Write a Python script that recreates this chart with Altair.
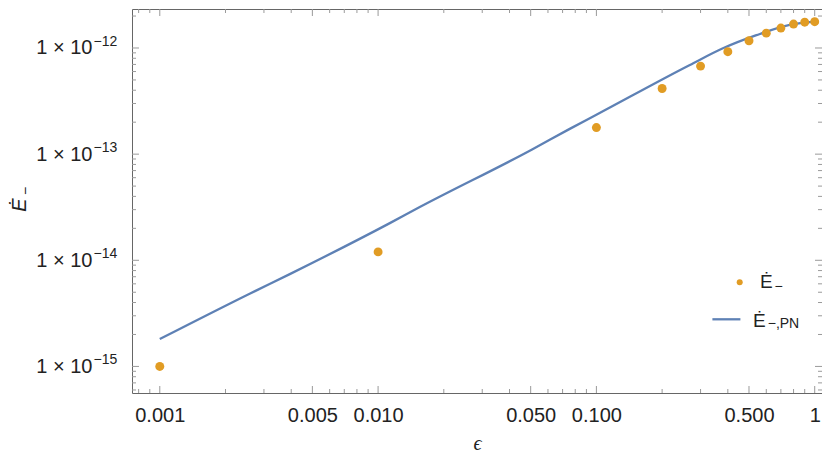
import altair as alt
import pandas as pd

# ---- data ----
eps_points = [0.001, 0.01, 0.1, 0.2, 0.3, 0.4, 0.5, 0.6, 0.7, 0.8, 0.9, 1.0]
edot_points = [1.0e-15, 1.2e-14, 1.78e-13, 4.15e-13, 6.75e-13, 9.23e-13,
               1.17e-12, 1.38e-12, 1.54e-12, 1.68e-12, 1.75e-12, 1.77e-12]

eps_pn = [0.001, 0.00258, 0.00394, 0.01132, 0.01552, 0.0505, 0.0755, 0.1,
          0.268, 0.380, 0.541, 0.769, 1.0]
edot_pn = [1.81e-15, 4.84e-15, 7.41e-15, 2.24e-14, 3.17e-14, 1.10e-13, 1.73e-13,
           2.35e-13, 6.92e-13, 9.93e-13, 1.32e-12, 1.65e-12, 1.77e-12]

x_major = [0.001, 0.005, 0.01, 0.05, 0.1, 0.5, 1.0]
x_labels = ["0.001", "0.005", "0.010", "0.050", "0.100", "0.500", "1"]
x_minor = [0.0008, 0.0009, 0.002, 0.003, 0.004, 0.006, 0.007, 0.008, 0.009,
           0.02, 0.03, 0.04, 0.06, 0.07, 0.08, 0.09,
           0.2, 0.3, 0.4, 0.6, 0.7, 0.8, 0.9]
y_major = [1e-15, 1e-14, 1e-13, 1e-12]
y_exponents = ["\u221215", "\u221214", "\u221213", "\u221212"]
y_minor = [6e-16, 7e-16, 8e-16, 9e-16,
           2e-15, 3e-15, 4e-15, 5e-15, 6e-15, 7e-15, 8e-15, 9e-15,
           2e-14, 3e-14, 4e-14, 5e-14, 6e-14, 7e-14, 8e-14, 9e-14,
           2e-13, 3e-13, 4e-13, 5e-13, 6e-13, 7e-13, 8e-13, 9e-13,
           2e-12]

x_domain = [7.46e-4, 1.08]
y_domain = [5.62e-16, 2.33e-12]

FONT = "Liberation Sans"
W, H = 690, 384
ORANGE = "#E19C24"
BLUE = "#5E81B5"
TICK = "#9a9a9a"
TXT = "#222222"

xscale = alt.Scale(type="log", domain=x_domain, nice=False)
yscale = alt.Scale(type="log", domain=y_domain, nice=False)

# label expression for x axis built from the arrays
x_expr = "''"
for v, l in reversed(list(zip(x_major, x_labels))):
    x_expr = f"abs(datum.value - {v}) < {v * 1e-6} ? '{l}' : ({x_expr})"

x_axis = alt.Axis(values=x_major, labelExpr=x_expr, ticks=False, tickSize=0,
                  domain=False, grid=False, labelFont=FONT, labelFontSize=20,
                  labelColor=TXT, labelPadding=12, labelFlush=False,
                  labelOverlap=False, title="\u03f5", titleFont="Liberation Serif",
                  titleFontStyle="italic", titleFontWeight="normal",
                  titleFontSize=20, titleColor=TXT, titleBaseline="middle",
                  titleY=50)
y_axis = alt.Axis(values=y_major, labelExpr="'1 \u00d7 10'", ticks=False,
                  tickSize=0, domain=False, grid=False, labelFont=FONT,
                  labelFontSize=20, labelColor=TXT, labelPadding=40,
                  labelOverlap=False, title=None)

X = lambda f: alt.X(f, scale=xscale, axis=x_axis)
Y = lambda f: alt.Y(f, scale=yscale, axis=y_axis)

pts_df = pd.DataFrame({"eps": eps_points, "edot": edot_points})
pn_df = pd.DataFrame({"eps": eps_pn, "edot": edot_pn})

line = alt.Chart(pn_df).mark_line(color=BLUE, strokeWidth=2.3,
                                  interpolate="monotone").encode(
    x=X("eps:Q"), y=Y("edot:Q"))
points = alt.Chart(pts_df).mark_circle(size=80, color=ORANGE, opacity=1).encode(
    x=X("eps:Q"), y=Y("edot:Q"))


def xticks(vals, length):
    df = pd.DataFrame({"eps": vals})
    bottom = alt.Chart(df).mark_rule(color=TICK, strokeWidth=1).encode(
        x=X("eps:Q"), y=alt.value(H), y2=alt.value(H - length))
    top = alt.Chart(df).mark_rule(color=TICK, strokeWidth=1).encode(
        x=X("eps:Q"), y=alt.value(0), y2=alt.value(length))
    return [bottom, top]


def yticks(vals, length):
    df = pd.DataFrame({"edot": vals})
    left = alt.Chart(df).mark_rule(color=TICK, strokeWidth=1).encode(
        y=Y("edot:Q"), x=alt.value(0), x2=alt.value(length))
    right = alt.Chart(df).mark_rule(color=TICK, strokeWidth=1).encode(
        y=Y("edot:Q"), x=alt.value(W), x2=alt.value(W - length))
    return [left, right]


tick_layers = (xticks(x_major, 7) + xticks(x_minor, 4)
               + yticks(y_major, 7) + yticks(y_minor, 4))

exp_df = pd.DataFrame({"edot": y_major, "e": y_exponents})
exps = alt.Chart(exp_df).mark_text(font=FONT, fontSize=14, align="left",
                                   baseline="middle", color=TXT, dy=-6).encode(
    y=Y("edot:Q"), x=alt.value(-38.5), text="e:N")

one = pd.DataFrame({"a": [0]})


def label(text, x, y, size, **kw):
    return alt.Chart(one).mark_text(text=text, font=FONT, fontSize=size,
                                    color=TXT, **kw).encode(
        x=alt.value(x), y=alt.value(y))


# y-axis title  Ė₋ (rotated)
ytitle = [
    label("\u0116", -112, 196, 20, angle=270, fontStyle="italic",
          align="center", baseline="middle"),
    label("\u2212", -106, 182, 14, angle=270, align="center", baseline="middle"),
]

# legend
leg_point = alt.Chart(one).mark_circle(size=36, color=ORANGE, opacity=1).encode(
    x=alt.value(607.7), y=alt.value(273.3))
leg_line = alt.Chart(one).mark_rule(color=BLUE, strokeWidth=2.3).encode(
    x=alt.value(580.4), x2=alt.value(608.4), y=alt.value(310.3))
legend = [
    leg_point, leg_line,
    label("\u0116", 628, 279.3, 19, align="left", baseline="alphabetic"),
    label("\u2212", 642.5, 277.7, 14, align="left", baseline="middle"),
    label("\u0116", 621, 317.7, 19, align="left", baseline="alphabetic"),
    label("\u2212,PN", 635.7, 319.3, 14, align="left", baseline="alphabetic"),
]

chart = alt.layer(
    line, points, *tick_layers, exps, *ytitle, *legend
).properties(
    width=W, height=H,
    autosize=alt.AutoSizeParams(type="none"),
    padding={"left": 124, "top": 1, "right": 0, "bottom": 61},
).configure_view(
    stroke="#666666", strokeWidth=1
)

chart.save("out.html", embed_options={"renderer": "svg", "actions": False})
